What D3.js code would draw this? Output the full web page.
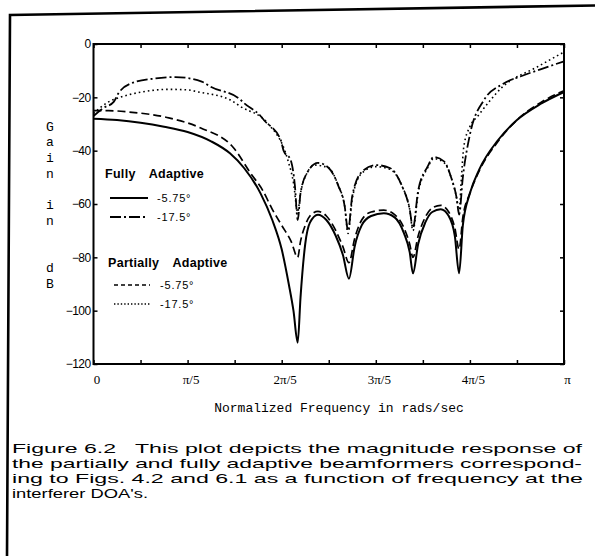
<!DOCTYPE html>
<html>
<head>
<meta charset="utf-8">
<script src="https://cdn.jsdelivr.net/npm/d3@7"></script>
<style>
  html, body { margin: 0; padding: 0; background: #fff; }
  svg { display: block; }
</style>
</head>
<body>
<svg id="chart" width="595" height="556"></svg>
<script>
// ---------------- data (frequency in units of π, gain in dB) ----------------
const xTickValues = [0, 0.2, 0.4, 0.6, 0.8, 1.0];
const xTickLabels = ["0", "π/5", "2π/5", "3π/5", "4π/5", "π"];
const xMinorTicks = [0, 0.1, 0.2, 0.3, 0.4, 0.5, 0.6, 0.7, 0.8, 0.9, 1.0];
const yTickValues = [0, -20, -40, -60, -80, -100, -120];

// Fully adaptive, -5.75° (solid)
const faNarrowFreq = [0, 0.05, 0.1, 0.15, 0.2, 0.25, 0.29, 0.32, 0.355, 0.38, 0.40, 0.415, 0.425, 0.434,
  0.44, 0.45, 0.46, 0.477, 0.495, 0.515, 0.53, 0.543, 0.555, 0.57, 0.59, 0.617, 0.64, 0.66, 0.672, 0.679,
  0.69, 0.705, 0.72, 0.738, 0.755, 0.768, 0.777, 0.785, 0.8, 0.82, 0.86, 0.9, 0.95, 1.0];
const faNarrowGain = [-28, -28.5, -29.5, -31, -33, -36.5, -41, -46.5, -56, -66, -77, -90, -100, -112,
  -95, -75, -67, -64, -66, -72, -79, -88, -76, -68, -64.5, -63.5, -65, -71, -78, -86,
  -75, -67, -63, -62, -64.5, -72, -86, -68, -56, -47, -36, -28.5, -22.5, -18];

// Fully adaptive, -17.5° (dash-dot)
const faWideFreq = [0, 0.021, 0.043, 0.053, 0.081, 0.132, 0.174, 0.23, 0.249, 0.313, 0.319, 0.355, 0.362,
  0.398, 0.404, 0.419, 0.428, 0.434, 0.44, 0.455, 0.477, 0.5, 0.52, 0.534, 0.541, 0.55, 0.57, 0.6, 0.63,
  0.655, 0.672, 0.679, 0.69, 0.71, 0.723, 0.745, 0.76, 0.772, 0.777, 0.785, 0.8, 0.83, 0.87, 0.91, 0.95, 1.0];
const faWideGain = [-27, -24, -21.7, -18.5, -14.7, -12.9, -12.4, -14.1, -16, -21, -22, -27, -28.5,
  -36, -40, -43.5, -53, -66, -56, -48, -44.6, -46.5, -53, -61, -70, -57, -48, -45.4, -46.5,
  -53, -62, -69, -55, -46, -42.4, -44, -50, -58, -64, -50, -34, -21, -15, -12, -9.5, -6.5];

// Partially adaptive, -5.75° (dashed)
const paNarrowFreq = [0, 0.032, 0.075, 0.16, 0.228, 0.298, 0.334, 0.36, 0.38, 0.40, 0.42, 0.434,
  0.44, 0.45, 0.46, 0.477, 0.495, 0.515, 0.53, 0.543, 0.555, 0.57, 0.59, 0.617, 0.64, 0.66, 0.672, 0.679,
  0.69, 0.705, 0.72, 0.738, 0.755, 0.768, 0.777, 0.785, 0.8, 0.82, 0.86, 0.9, 0.95, 1.0];
const paNarrowGain = [-25, -25, -25.5, -27.7, -31.5, -39, -48.5, -55, -62, -68, -74, -80,
  -74, -68, -64.5, -62.8, -64.5, -70, -76, -82, -73, -66, -63, -62.3, -64, -69, -75, -80,
  -72, -65, -61.5, -60.5, -63, -69, -77, -65, -56, -47.5, -36.5, -28.5, -22, -17.5];

// Partially adaptive, -17.5° (dotted)
const paWideFreq = [0, 0.032, 0.06, 0.102, 0.16, 0.2, 0.223, 0.291, 0.313, 0.37, 0.413, 0.425, 0.434,
  0.44, 0.455, 0.47, 0.5, 0.52, 0.534, 0.541, 0.55, 0.57, 0.6, 0.63, 0.655, 0.672, 0.679, 0.69, 0.71,
  0.723, 0.745, 0.76, 0.772, 0.777, 0.782, 0.787, 0.8, 0.817, 0.87, 0.943, 1.0];
const paWideGain = [-26, -21.7, -19.8, -18, -17, -17.2, -18, -21, -23.5, -29.7, -43.5, -52, -63,
  -56, -48, -45.4, -46.5, -53, -61, -71, -58, -48.5, -46, -47, -53, -62, -70, -56, -46.5,
  -43, -44.5, -50, -58, -63, -50, -38.6, -31, -27, -16, -8.6, -3];

const legendTitles = ["Fully  Adaptive", "Partially  Adaptive"];
const legendAngles = ["-5.75°", "-17.5°"];
const yTitleLetters = ["G", "a", "i", "n", "", "i", "n", "", "", "d", "B"];
const xTitle = "Normalized Frequency in rads/sec";
const captionLines = [
  "Figure 6.2   This plot depicts the magnitude response of",
  "the partially and fully adaptive beamformers correspond-",
  "ing to Figs. 4.2 and 6.1 as a function of frequency at the",
  "interferer DOA's."
];

// ---------------- drawing ----------------
const svg = d3.select("#chart");
const L = 93.5, R = 564, T = 44, B = 364;

const x = d3.scaleLinear().domain([0, 1]).range([L, R]);
const y = d3.scaleLinear().domain([-120, 0]).range([B, T]);

// outer figure border (scanned page frame)
svg.append("path")
  .attr("d", "M595,5.5 L10,15 L7,556")
  .attr("fill", "none").attr("stroke", "#000").attr("stroke-width", 2.6);

// ticks: left / right (y), bottom / top (x)
const yAxisL = d3.axisLeft(y).tickValues(yTickValues).tickSize(-4).tickPadding(3)
  .tickFormat(d => d === 0 ? "0" : "\u2212" + Math.abs(d));
const gyl = svg.append("g").attr("transform", `translate(${L},0)`).call(yAxisL);
gyl.select(".domain").remove();
gyl.selectAll("line").attr("stroke", "#000").attr("stroke-width", 1.5);
gyl.selectAll("text").attr("font-family", "'Liberation Sans', Arial, sans-serif")
  .attr("font-size", 12).attr("letter-spacing", -0.6).attr("fill", "#000");

const yAxisR = d3.axisRight(y).tickValues(yTickValues).tickSize(-4).tickFormat("");
const gyr = svg.append("g").attr("transform", `translate(${R},0)`).call(yAxisR);
gyr.select(".domain").remove();
gyr.selectAll("line").attr("stroke", "#000").attr("stroke-width", 1.5);

const xAxisB = d3.axisBottom(x).tickValues(xTickValues).tickSize(0).tickPadding(11)
  .tickFormat((d, i) => xTickLabels[i]);
const gxb = svg.append("g").attr("transform", `translate(0,${B})`).call(xAxisB);
gxb.select(".domain").remove();
gxb.selectAll("text").attr("font-family", "'Liberation Serif', 'Times New Roman', serif")
  .attr("font-size", 13).attr("dx", 3).attr("fill", "#000");

const xMinorB = d3.axisBottom(x).tickValues(xMinorTicks).tickSize(-4).tickFormat("");
const gmb = svg.append("g").attr("transform", `translate(0,${B})`).call(xMinorB);
gmb.select(".domain").remove();
gmb.selectAll("line").attr("stroke", "#000").attr("stroke-width", 1.5);

const xMinorT = d3.axisTop(x).tickValues(xMinorTicks).tickSize(-4).tickFormat("");
const gmt = svg.append("g").attr("transform", `translate(0,${T})`).call(xMinorT);
gmt.select(".domain").remove();
gmt.selectAll("line").attr("stroke", "#000").attr("stroke-width", 1.5);

// plot frame
svg.append("rect").attr("x", L).attr("y", T).attr("width", R - L).attr("height", B - T)
  .attr("fill", "none").attr("stroke", "#000").attr("stroke-width", 2);

// curves
const series = [
  { f: faNarrowFreq, g: faNarrowGain, dash: null, w: 2.0 },
  { f: faWideFreq, g: faWideGain, dash: "11,3,2,3", w: 1.8 },
  { f: paNarrowFreq, g: paNarrowGain, dash: "8,4", w: 1.7 },
  { f: paWideFreq, g: paWideGain, dash: "1.6,3", w: 1.6 }
];
const line = d3.line().x(d => x(d[0])).y(d => y(d[1])).curve(d3.curveMonotoneX);
series.forEach(s => {
  const pts = s.f.map((v, i) => [v, s.g[i]]);
  svg.append("path").datum(pts)
    .attr("d", line)
    .attr("fill", "none")
    .attr("stroke", "#000")
    .attr("stroke-width", s.w)
    .attr("stroke-linejoin", "round")
    .attr("stroke-dasharray", s.dash);
});

// legend
const legendFont = "'Liberation Sans', Arial, sans-serif";
const lg = svg.append("g");
const legendLayout = [
  { title: legendTitles[0], tx: 105, ty: 178, items: [
      { y: 198, dash: null, w: 2.0, x1: 110, x2: 148, tx: 157 },
      { y: 217, dash: "11,3,2,3", w: 1.8, x1: 110, x2: 148, tx: 157 } ] },
  { title: legendTitles[1], tx: 108, ty: 267, items: [
      { y: 285, dash: "4,3", w: 1.6, x1: 114, x2: 150, tx: 160 },
      { y: 304, dash: "1.4,2", w: 1.4, x1: 114, x2: 150, tx: 160 } ] }
];
legendLayout.forEach(grp => {
  lg.append("text").attr("x", grp.tx).attr("y", grp.ty)
    .attr("font-family", legendFont).attr("font-weight", "bold").attr("font-size", 12.5)
    .attr("letter-spacing", 0.3).attr("word-spacing", 3)
    .attr("xml:space", "preserve").style("white-space", "pre")
    .text(grp.title);
  grp.items.forEach((it, i) => {
    lg.append("line").attr("x1", it.x1).attr("x2", it.x2).attr("y1", it.y).attr("y2", it.y)
      .attr("stroke", "#000").attr("stroke-width", it.w).attr("stroke-dasharray", it.dash);
    lg.append("text").attr("x", it.tx).attr("y", it.y + 4)
      .attr("font-family", legendFont).attr("font-size", 11).attr("letter-spacing", 0.8)
      .attr("fill", "#000").text(legendAngles[i]);
  });
});

// y title (stacked letters)
svg.append("g").selectAll("text").data(yTitleLetters).join("text")
  .attr("x", 50).attr("y", (d, i) => 127 + i * 15.7)
  .attr("dominant-baseline", "central").attr("text-anchor", "middle")
  .attr("font-family", "'Liberation Mono', 'Courier New', monospace").attr("font-size", 13)
  .attr("fill", "#000").text(d => d);

// x title
svg.append("text").attr("x", 339).attr("y", 412).attr("text-anchor", "middle")
  .attr("font-family", "'Liberation Mono', 'Courier New', monospace").attr("font-size", 13)
  .attr("fill", "#000").text(xTitle);

// caption (justified lines, wide face)
const capWidths = [570, 570, 571, 136];
svg.append("g").selectAll("text").data(captionLines).join("text")
  .attr("x", 12).attr("y", (d, i) => 453 + i * 15)
  .attr("font-family", "'Liberation Sans', Arial, sans-serif").attr("font-size", 13.4)
  .attr("fill", "#000")
  .attr("xml:space", "preserve").style("white-space", "pre")
  .attr("textLength", (d, i) => capWidths[i])
  .attr("lengthAdjust", "spacingAndGlyphs")
  .text(d => d);
</script>
</body>
</html>
